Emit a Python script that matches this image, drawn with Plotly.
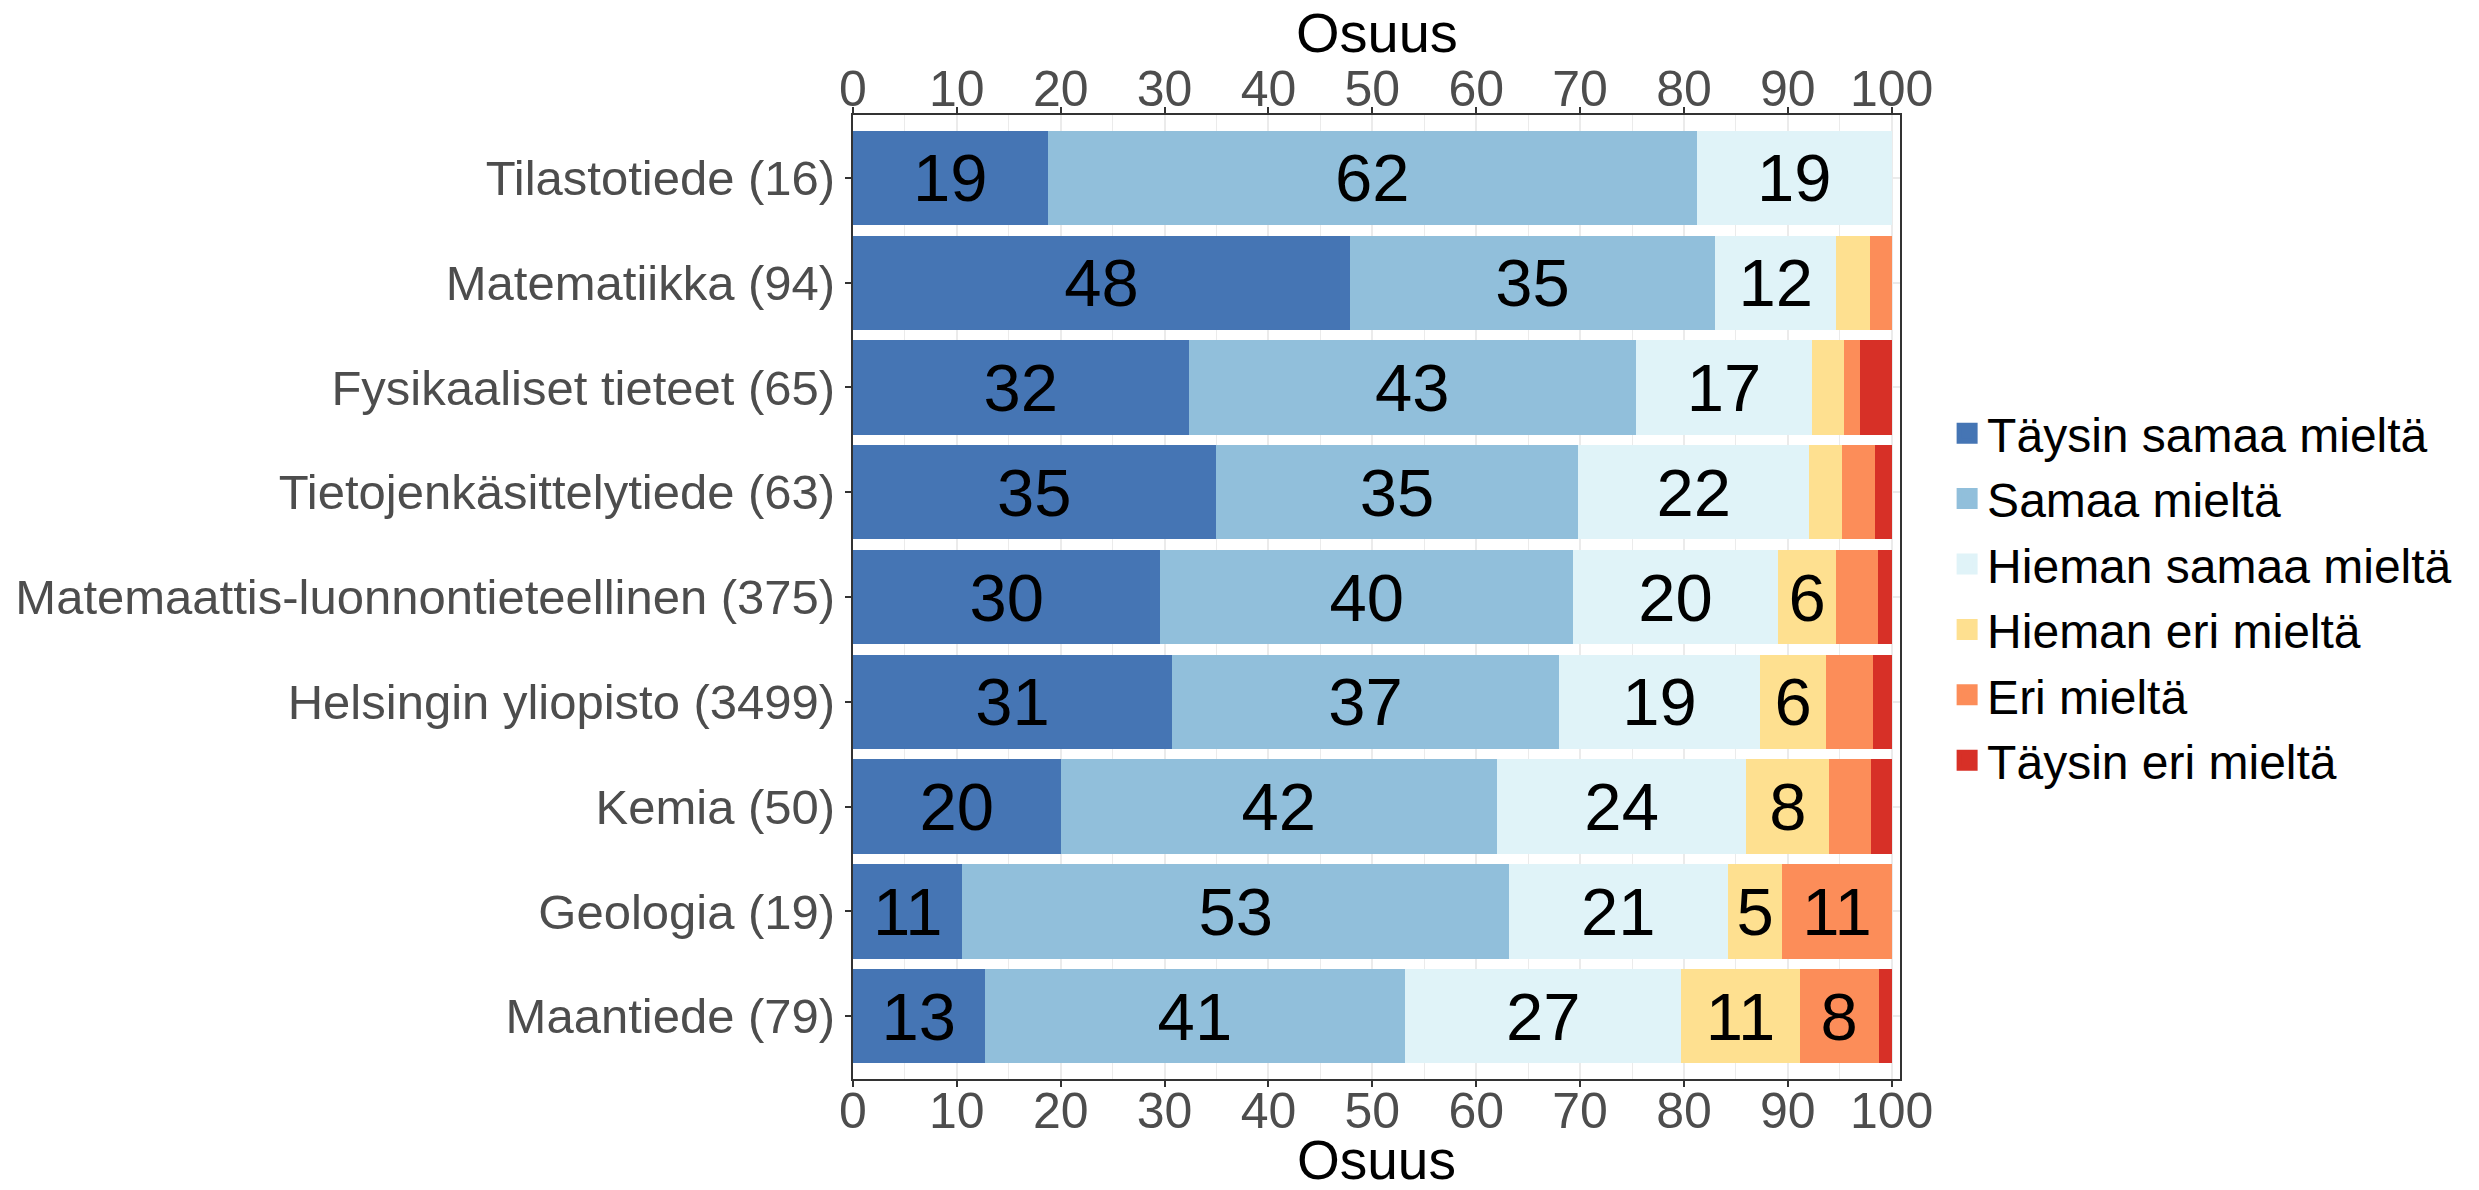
import plotly.graph_objects as go

categories = [
    "Tilastotiede (16)",
    "Matematiikka (94)",
    "Fysikaaliset tieteet (65)",
    "Tietojenkäsittelytiede (63)",
    "Matemaattis-luonnontieteellinen (375)",
    "Helsingin yliopisto (3499)",
    "Kemia (50)",
    "Geologia (19)",
    "Maantiede (79)",
]

series_names = [
    "Täysin samaa mieltä",
    "Samaa mieltä",
    "Hieman samaa mieltä",
    "Hieman eri mieltä",
    "Eri mieltä",
    "Täysin eri mieltä",
]

taysin_samaa = [18.75, 47.87, 32.31, 34.92, 29.60, 30.70, 20.0, 10.53, 12.66]
samaa = [62.50, 35.11, 43.08, 34.92, 39.73, 37.30, 42.0, 52.63, 40.51]
hieman_samaa = [18.75, 11.70, 16.92, 22.22, 19.73, 19.30, 24.0, 21.05, 26.58]
hieman_eri = [0.0, 3.19, 3.08, 3.17, 5.60, 6.40, 8.0, 5.26, 11.39]
eri = [0.0, 2.13, 1.54, 3.17, 4.00, 4.50, 4.0, 10.53, 7.59]
taysin_eri = [0.0, 0.0, 3.08, 1.59, 1.33, 1.80, 2.0, 0.0, 1.27]

series_values = [taysin_samaa, samaa, hieman_samaa, hieman_eri, eri, taysin_eri]
colors = ["#4575B4", "#91BFDB", "#E0F3F8", "#FEE090", "#FC8D59", "#D73027"]

x_ticks = [0, 10, 20, 30, 40, 50, 60, 70, 80, 90, 100]
axis_title = "Osuus"

FONT = "Liberation Sans, Arial, sans-serif"
TICK_COLOR = "#4D4D4D"
GRID = "#EBEBEB"

fig = go.Figure()
for name, vals, col in zip(series_names, series_values, colors):
    labels = [str(round(v)) if v >= 5 else "" for v in vals]
    fig.add_trace(go.Bar(
        y=categories, x=vals, name=name, orientation="h",
        marker=dict(color=col, line=dict(width=0)),
        text=labels, textposition="inside", insidetextanchor="middle",
        constraintext="none",
        textfont=dict(family=FONT, size=67, color="black"),
        hoverinfo="skip", showlegend=False,
    ))

# legend entries (square keys, larger than the default bar keys)
for name, col in zip(series_names, colors):
    fig.add_trace(go.Scatter(
        x=[None], y=[None], mode="markers", name=name,
        marker=dict(symbol="square", size=16, color=col,
                    line=dict(color=col, width=5)),
        hoverinfo="skip", showlegend=True,
    ))

# invisible helper so the secondary (top) axis is rendered
fig.add_trace(go.Scatter(
    x=[x_ticks[0], x_ticks[-1]], y=[categories[0], categories[0]],
    xaxis="x2", mode="markers", marker=dict(opacity=0),
    showlegend=False, hoverinfo="skip",
))

axis_common = dict(
    range=[0, 100.8], tickvals=x_ticks, ticks="outside", ticklen=6,
    tickwidth=2, tickcolor="#333333",
    tickfont=dict(family=FONT, size=50, color=TICK_COLOR),
    ticklabelstandoff=-19,
    showgrid=True, gridcolor=GRID, gridwidth=2,
    minor=dict(dtick=5, showgrid=True, gridcolor=GRID, gridwidth=1),
    showline=True, linecolor="#333333", linewidth=2, mirror=True,
    zeroline=False, fixedrange=True, automargin=False,
)

fig.update_layout(
    width=2479, height=1190,
    barmode="stack", bargap=0.1,
    plot_bgcolor="white", paper_bgcolor="white",
    margin=dict(l=853, r=579, t=115, b=111, autoexpand=False),
    font=dict(family=FONT),
    xaxis=dict(side="bottom", **axis_common),
    xaxis2=dict(side="top", overlaying="x", anchor="y", **axis_common),
    yaxis=dict(
        range=[8.6, -0.6], type="category",
        tickfont=dict(family=FONT, size=49, color=TICK_COLOR),
        ticks="outside", ticklen=6, tickwidth=2, tickcolor="#333333",
        showgrid=True, gridcolor=GRID, gridwidth=2,
        showline=True, linecolor="#333333", linewidth=2, mirror=True,
        fixedrange=True, automargin=False,
    ),
    legend=dict(
        x=1.045, xanchor="left", y=0.5, yanchor="middle",
        traceorder="normal", itemsizing="trace",
        font=dict(family=FONT, size=48, color="black"),
        bgcolor="rgba(0,0,0,0)",
    ),
    showlegend=True,
    annotations=[
        dict(text=axis_title, xref="paper", yref="paper", x=0.5, y=1,
             xanchor="center", yanchor="middle", yshift=83, showarrow=False,
             font=dict(family=FONT, size=56, color="black")),
        dict(text=axis_title, xref="paper", yref="paper", x=0.5, y=0,
             xanchor="center", yanchor="middle", yshift=-81, showarrow=False,
             font=dict(family=FONT, size=55, color="black")),
    ],
)

fig.write_html(
    "out.html",
    config={"displayModeBar": False},
    post_script="document.body.style.margin='0';document.body.style.overflow='hidden';",
)
